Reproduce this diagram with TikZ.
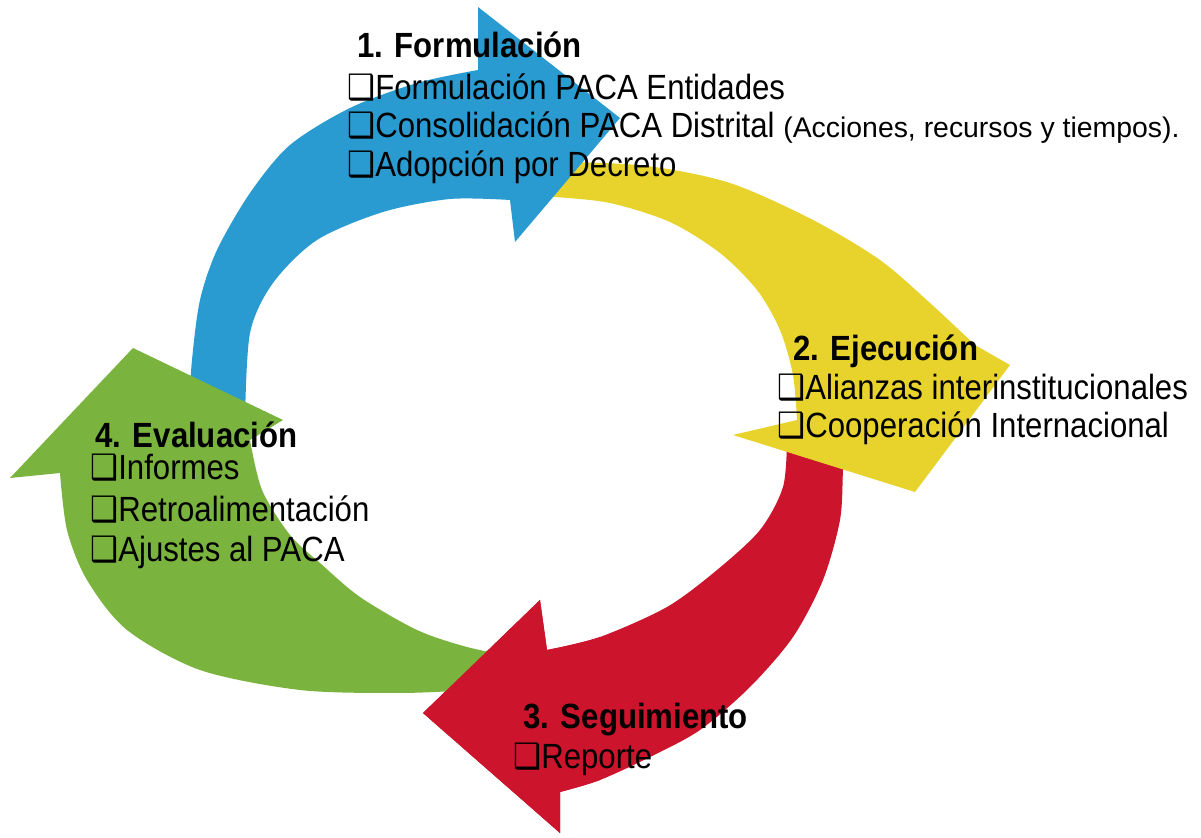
\documentclass[tikz,border=0pt]{standalone}
\usepackage{fontspec}
\setmainfont{Liberation Sans}[FakeStretch=0.89]
\newfontfamily\symfont{DejaVu Sans}[FakeStretch=0.89]
\newfontfamily\notefont{Liberation Sans}
\definecolor{cycleBlue}{RGB}{41,155,208}
\definecolor{cycleYellow}{RGB}{231,211,44}
\definecolor{cycleRed}{RGB}{204,20,44}
\definecolor{cycleGreen}{RGB}{122,179,62}
\newcommand{\chkbox}{{\symfont ❑}}

\tikzset{
  stage/.style={anchor=base west, inner sep=0pt, font=\bfseries\fontsize{17.5}{21}\selectfont},
  item/.style={anchor=base west, inner sep=0pt, font=\fontsize{17.5}{21}\selectfont},
}

\begin{document}
\begin{tikzpicture}[x=0.5pt, y=-0.5pt]
		\useasboundingbox[fill=white] (0,0) rectangle (1201,838);

		% Arrow outlines
		\path[save path=\redarrow] plot[smooth] coordinates {(845,440) (843,470) (840,520) (823,580) (793,637) (750,687) (700,730) (650,757) (600,780) (560,792)}
			-- (560,833) -- (423,713) -- (540,600)
			-- plot[smooth] coordinates {(547,650) (600,637) (667,607) (717,570) (760,530) (783,487) (787,440)} -- cycle;
		\path[save path=\yellowarrow] plot[smooth] coordinates {(540,165) (563,162) (647,166) (730,183) (813,220) (880,260) (930,303) (975,345)}
			-- (1010,365) -- (915,492) -- (733,435)
			-- plot[smooth] coordinates {(797,420) (793,375) (780,330) (757,290) (720,253) (670,222) (610,203) (555,197) (540,197)} -- cycle;
		\path[save path=\bluearrow] plot[smooth] coordinates {(188,420) (192,360) (200,300) (217,250) (250,193) (290,145) (350,108) (417,83) (478,70)}
			-- (478,7) -- (620,118) -- (515,242)
			-- plot[smooth] coordinates {(510,200) (450,199) (383,212) (317,240) (273,283) (250,333) (245,420)} -- cycle;
		\path[save path=\greenarrow] plot[smooth] coordinates {(520,692) (483,690) (400,693) (300,690) (200,670) (127,630) (87,580) (67,530) (60,473)}
			-- (10,478) -- (133,348) -- (283,420)
			-- plot[smooth] coordinates {(250,440) (262,490) (290,535) (320,563) (360,597) (417,630) (467,647) (520,658)} -- cycle;

		% Arrows, each head over the next tail
		\fill[cycleRed, use path=\redarrow];
		\fill[cycleYellow, use path=\yellowarrow];
		\fill[cycleBlue, use path=\bluearrow];
		\fill[cycleGreen, use path=\greenarrow];
		\begin{scope}
			\clip (400,560) rectangle (600,838);
			\fill[cycleRed, use path=\redarrow];
		\end{scope}

		% 1. Formulacion
		\node[stage] (form) at (357,58) {1. Formulación};
		\node[item] (form1) at (347,100) {\chkbox Formulación PACA Entidades};
		\node[item] (form2) at (347,138) {\chkbox Consolidación PACA Distrital {\notefont\fontsize{14.2}{17}\selectfont (Acciones, recursos y tiempos).}};
		\node[item] (form3) at (347,177) {\chkbox Adopción por Decreto};

		% 2. Ejecucion
		\node[stage] (ejec) at (793,361) {2. Ejecución};
		\node[item] (ejec1) at (777,400) {\chkbox Alianzas interinstitucionales};
		\node[item] (ejec2) at (777,438) {\chkbox Cooperación Internacional};

		% 3. Seguimiento
		\node[stage] (segu) at (523,729) {3. Seguimiento};
		\node[item] (segu1) at (513,769) {\chkbox Reporte};

		% 4. Evaluacion
		\node[stage] (eval) at (95,448) {4. Evaluación};
		\node[item] (eval1) at (90,480) {\chkbox Informes};
		\node[item] (eval2) at (90,522) {\chkbox Retroalimentación};
		\node[item] (eval3) at (90,562) {\chkbox Ajustes al PACA};
	\end{tikzpicture}
\end{document}
